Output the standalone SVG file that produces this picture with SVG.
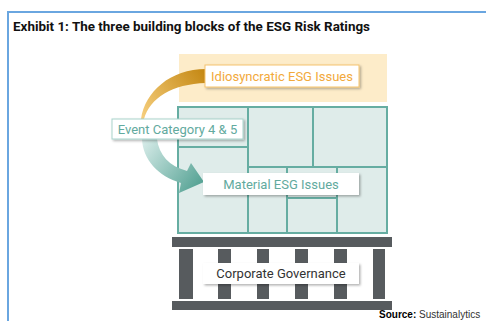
<svg xmlns="http://www.w3.org/2000/svg" width="486" height="321" viewBox="0 0 486 321">
<defs>
<style>
.lbl{font-family:Roboto,"Liberation Sans",sans-serif;font-size:13px;text-anchor:middle}
.cell{fill:none;stroke:#66ada2;stroke-width:2}
.post{fill:#575b5e}
</style>
<filter id="sh" x="-10%" y="-30%" width="130%" height="180%">
<feDropShadow dx="1.5" dy="1.5" stdDeviation="1" flood-color="#000" flood-opacity="0.3"/>
</filter>
<linearGradient id="og" x1="205" y1="75" x2="142" y2="119" gradientUnits="userSpaceOnUse">
<stop offset="0" stop-color="#c68a16"/>
<stop offset="1" stop-color="#f6cf7e"/>
</linearGradient>
<linearGradient id="tg" x1="145" y1="139" x2="200" y2="182" gradientUnits="userSpaceOnUse">
<stop offset="0" stop-color="#d6ebe8"/>
<stop offset="1" stop-color="#5aa597"/>
</linearGradient>
</defs>
<rect width="486" height="321" fill="#fff"/>
<path d="M8,321 V12 H486" fill="none" stroke="#6aa6e0" stroke-width="2"/>
<text x="13" y="31" font-family="Roboto,'Liberation Sans',sans-serif" font-size="13" font-weight="bold" fill="#111" textLength="357" lengthAdjust="spacingAndGlyphs">Exhibit 1: The three building blocks of the ESG Risk Ratings</text>

<g id="idiosyncratic-band">
<rect x="179" y="54" width="208" height="48" fill="#fdecc9"/>
</g>

<g id="material-grid">
<rect x="178" y="107" width="209" height="126" style="fill:#dfecea;stroke:#66ada2;stroke-width:2"/>
<path class="cell" d="M248,107 V233 M313,107 V167 M178,147 H248 M248,167 H387 M287,167 V233 M337,167 V233 M287,198 H337"/>
</g>

<g id="governance-structure">
<rect class="post" x="172" y="237" width="220" height="10"/>
<rect class="post" x="172" y="301" width="220" height="9"/>
<rect class="post" x="179" y="249" width="14" height="50"/>
<rect class="post" x="218" y="249" width="13" height="50"/>
<rect class="post" x="257" y="249" width="12" height="50"/>
<rect class="post" x="295" y="249" width="13" height="50"/>
<rect class="post" x="334" y="249" width="13" height="50"/>
<rect class="post" x="373" y="249" width="12" height="50"/>
</g>

<g id="connectors">
<path d="M206,69 C170,69 145,92 141,119 L144,119 C150,98 172,84 206,83 Z" fill="url(#og)"/>
<path d="M142,139 C143,160 158,176 181,183 L179,193 L204,182 L191,163 L187,171 C169,166 159,155 157,139 Z" fill="url(#tg)"/>
</g>

<g id="label-idiosyncratic">
<rect x="205" y="65" width="154" height="22" fill="#fff" stroke="#f5c46e" stroke-width="1" filter="url(#sh)"/>
<text class="lbl" x="282" y="80.5" fill="#f2a93b">Idiosyncratic ESG Issues</text>
</g>
<g id="label-event">
<rect x="112" y="119" width="131" height="20" fill="#fff" stroke="#a9d3cc" stroke-width="1" filter="url(#sh)"/>
<text class="lbl" x="177.5" y="133.5" fill="#62aa9e">Event Category 4 &amp; 5</text>
</g>
<g id="label-material">
<rect x="203" y="173" width="156" height="22" fill="#fff" filter="url(#sh)"/>
<text class="lbl" x="281" y="188.5" fill="#62aa9e">Material ESG Issues</text>
</g>
<g id="label-governance">
<rect x="203" y="263" width="156" height="21" fill="#fff" filter="url(#sh)"/>
<text class="lbl" x="281" y="278" fill="#333">Corporate Governance</text>
</g>

<text x="379" y="318" font-family="'Liberation Sans',Arial,sans-serif" font-size="10" fill="#333"><tspan font-weight="bold" fill="#000">Source:</tspan> Sustainalytics</text>
</svg>
